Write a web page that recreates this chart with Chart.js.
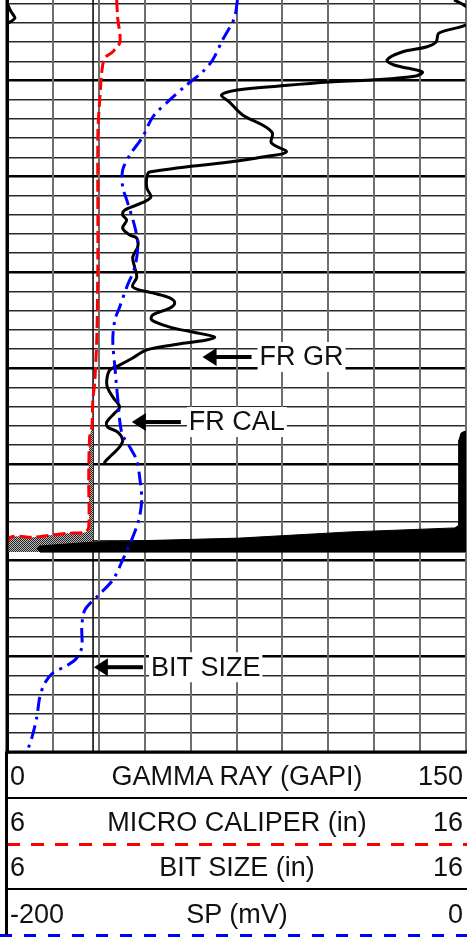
<!DOCTYPE html>
<html>
<head>
<meta charset="utf-8">
<script src="https://cdn.jsdelivr.net/npm/chart.js@4.4.1/dist/chart.umd.min.js"></script>
<style>
  body { margin: 0; background: #fff; font-family: "Liberation Sans", Arial, sans-serif; }
  #plot { position: absolute; left: 0; top: 0; width: 467px; height: 754px; }
  .row { position: absolute; left: 7px; width: 460px; display: flex; align-items: center; font-size: 27px; color: #111; }
  .row .l { position: absolute; left: 3px; }
  .row .r { position: absolute; right: 4px; }
  .row .c { width: 100%; text-align: center; }
  .sep { position: absolute; left: 7px; width: 460px; }
  #leftBorder { position: absolute; left: 5px; top: 752px; width: 3px; height: 183px; background: #000; }
</style>
</head>
<body>
<div id="plot"><canvas id="logChart"></canvas></div>

<div class="row" style="top:753px;height:46px"><span class="l">0</span><span class="c">GAMMA RAY (GAPI)</span><span class="r">150</span></div>
<div class="sep" style="top:797px;height:2px;background:#000"></div>
<div class="row" style="top:799px;height:46px"><span class="l">6</span><span class="c">MICRO CALIPER (in)</span><span class="r">16</span></div>
<div class="sep" style="top:843px;height:3px;background:repeating-linear-gradient(to right,#f00 0 13px,transparent 13px 24px)"></div>
<div class="row" style="top:845px;height:45px"><span class="l">6</span><span class="c">BIT SIZE (in)</span><span class="r">16</span></div>
<div class="sep" style="top:888px;height:2px;background:#000"></div>
<div class="row" style="top:891px;height:46px"><span class="l">-200</span><span class="c">SP (mV)</span><span class="r">0</span></div>
<div class="sep" style="top:934px;height:3px;left:0;width:467px;background:repeating-linear-gradient(to right,#00f 0 12px,transparent 12px 24px)"></div>
<div id="leftBorder"></div>

<script>
// depth in grid divisions (one minor line = 1), values in curve units

// gamma ray (GAPI)
const grDepth = [0.80, 1.06, 1.58, 2.10, 2.52, 2.99, 3.25, 3.51, 3.93, 4.19, 4.55, 4.76, 4.97, 5.07, 5.28, 5.49, 5.75, 6.12, 6.79, 7.32, 7.73, 8.25, 8.72, 8.98, 9.24, 9.77, 10.03, 10.60, 11.07, 11.38, 11.75, 12.01, 12.27, 12.69, 13.05, 13.21, 13.68, 14.20, 14.72, 15.24, 15.76, 16.07, 16.33, 16.59, 16.86, 17.22, 17.48, 17.85, 18.11, 18.37, 18.52, 18.78, 19.04, 19.46, 19.83, 20.09, 20.61, 21.03, 21.50, 22.02, 22.33, 22.80, 23.06, 23.32, 23.74, 24.10, 24.52, 24.88, 25.04];
const grValue = [146.1, 149.3, 152.6, 150.0, 141.2, 140.2, 137.0, 129.1, 124.2, 126.5, 135.7, 133.7, 119.0, 105.3, 89.0, 75.3, 70.1, 72.7, 77.0, 83.5, 86.7, 86.4, 91.3, 83.5, 72.7, 46.6, 45.7, 45.7, 47.0, 44.0, 38.5, 37.8, 39.1, 37.8, 40.1, 42.4, 42.7, 41.1, 41.7, 42.4, 41.1, 47.6, 53.2, 54.8, 53.2, 47.6, 47.3, 53.2, 60.7, 67.8, 65.2, 54.1, 45.7, 41.1, 36.8, 33.6, 32.6, 32.9, 34.6, 36.8, 35.2, 32.6, 32.9, 36.2, 37.8, 36.8, 34.2, 32.0, 32.0];

// gamma ray wrapping in at the top left
const grWrapDepth = [0.95, 1.40, 1.74, 1.92, 2.00];
const grWrapValue = [0.0, 1.3, 2.6, 1.3, 0.3];

// micro caliper (in)
const calDepth = [0.80, 1.69, 2.99, 3.51, 3.82, 4.45, 6.01, 7.73, 13.84, 18.16, 19.93, 20.77, 21.66, 23.06, 23.59, 25.83, 28.28, 28.54, 28.60, 28.70, 28.81, 28.81, 29.58];
const calValue = [8.39, 8.41, 8.46, 8.30, 8.13, 8.07, 8.02, 7.98, 7.98, 7.96, 7.93, 7.91, 7.87, 7.85, 7.80, 7.78, 7.78, 7.70, 7.30, 6.93, 6.57, 6.07, 5.95];

// bit size (in)
const bitDepth = [0.8, 40];
const bitValue = [7.875, 7.875];

// SP (mV)
const spDepth = [0.80, 1.74, 2.89, 3.93, 4.55, 5.23, 6.01, 6.90, 7.94, 8.88, 9.66, 10.55, 11.23, 12.63, 13.57, 14.72, 15.76, 16.80, 17.48, 18.52, 19.93, 21.65, 23.37, 24.10, 24.78, 25.67, 26.86, 27.91, 28.95, 29.99, 31.03, 31.92, 32.60, 33.48, 34.53, 35.10, 35.47, 35.88, 36.40, 37.13, 38.18, 39.22, 40.00];
const spValue = [-99.6, -100.9, -106.1, -110.4, -114.8, -121.7, -129.1, -136.5, -140.9, -146.5, -149.6, -149.6, -147.8, -144.3, -143.0, -144.3, -147.8, -150.9, -153.0, -153.9, -153.0, -151.7, -150.0, -146.5, -143.5, -142.2, -141.3, -142.6, -145.7, -149.6, -153.9, -160.9, -166.1, -167.4, -167.4, -169.6, -173.5, -180.0, -183.5, -185.7, -187.0, -189.1, -191.3];

// casing outline, on the gamma ray scale, filled to the right edge
const casingDepth = [23.27, 23.37, 23.74, 28.17, 28.32, 28.53, 28.85, 29.05, 29.26, 29.42, 29.58, 29.58];
const casingValue = [149.7, 148.4, 147.7, 147.7, 146.4, 111.8, 76.0, 28.7, 10.8, 9.8, 10.8, 149.7];

const annotations = [
  { label: 'FR GR', gr: 63.9, depth: 19.41 },
  { label: 'FR CAL', gr: 40.8, depth: 22.80 },
  { label: 'BIT SIZE', gr: 28.4, depth: 35.58 },
];

const pts = (xs, ys) => xs.map((v, i) => ({ x: v, y: ys[i] }));

// mudcake shading: caliper clipped at bit size, filled to the bit line
const mudValue = calValue.map(v => Math.min(v, bitValue[0]));

// dithered grey like the original shading
const pc = document.createElement('canvas');
pc.width = 2; pc.height = 2;
const pctx = pc.getContext('2d');
pctx.fillStyle = '#bbb'; pctx.fillRect(0, 0, 2, 2);
pctx.fillStyle = '#222'; pctx.fillRect(0, 0, 1, 1); pctx.fillRect(1, 1, 1, 1);
const shade = pctx.createPattern(pc, 'repeat');

const labelPlugin = {
  id: 'labels',
  afterDatasetsDraw(chart) {
    const c = chart.ctx;
    const xs = chart.scales.xGR, ys = chart.scales.y;
    const a = chart.chartArea;
    c.save();
    // frame
    c.fillStyle = '#000';
    c.fillRect(a.left - 1.5, a.top, 3, a.bottom - a.top + 2);
    c.fillRect(a.left - 1.5, a.bottom - 1.5, a.right - a.left + 3, 3);
    c.font = '27px "Liberation Sans", Arial, sans-serif';
    c.textBaseline = 'middle';
    annotations.forEach(an => {
      const x = xs.getPixelForValue(an.gr);
      const y = ys.getPixelForValue(an.depth);
      c.fillStyle = '#000';
      c.beginPath();
      c.moveTo(x, y);
      c.lineTo(x + 14, y - 9);
      c.lineTo(x + 14, y + 9);
      c.closePath();
      c.fill();
      c.fillRect(x + 12, y - 2, 37, 4);
      const tx = x + 57;
      const w = c.measureText(an.label).width;
      c.fillStyle = '#fff';
      c.fillRect(tx - 2, y - 15, w + 4, 30);
      c.fillStyle = '#111';
      c.fillText(an.label, tx, y + 1);
    });
    c.restore();
  }
};

const ctx = document.getElementById('logChart').getContext('2d');

new Chart(ctx, {
  type: 'line',
  data: {
    datasets: [
      { // 0
        label: 'SP',
        data: pts(spValue, spDepth),
        xAxisID: 'xSP',
        borderColor: '#0000ff',
        borderWidth: 3,
        borderDash: [14, 6, 3, 6],
        tension: 0.3,
        fill: false,
      },
      { // 1
        label: 'GR',
        data: pts(grValue, grDepth),
        xAxisID: 'xGR',
        borderColor: '#000',
        borderWidth: 3,
        borderJoinStyle: 'round',
        tension: 0.35,
        fill: false,
      },
      { // 2
        label: 'GR wrap',
        data: pts(grWrapValue, grWrapDepth),
        xAxisID: 'xGR',
        borderColor: '#000',
        borderWidth: 3,
        tension: 0.2,
        fill: false,
      },
      { // 3
        label: 'Casing',
        data: pts(casingValue, casingDepth),
        xAxisID: 'xGR',
        borderColor: '#000',
        borderWidth: 1,
        backgroundColor: '#000',
        tension: 0,
        fill: { value: 150 },
      },
      { // 4
        label: 'Micro caliper',
        data: pts(calValue, calDepth),
        xAxisID: 'xCal',
        borderColor: '#ff0000',
        borderWidth: 3,
        borderDash: [12, 5],
        tension: 0.3,
        fill: false,
      },
      { // 5
        label: 'Mudcake',
        data: pts(mudValue, calDepth),
        xAxisID: 'xCal',
        borderWidth: 0,
        backgroundColor: shade,
        tension: 0.3,
        fill: 6,
      },
      { // 6
        label: 'Bit size',
        data: pts(bitValue, bitDepth),
        xAxisID: 'xCal',
        borderColor: '#000',
        borderWidth: 1.5,
        tension: 0,
        fill: false,
      },
    ]
  },
  options: {
    indexAxis: 'y',
    responsive: true,
    maintainAspectRatio: false,
    animation: false,
    layout: { padding: { left: 7, right: 1, top: 0, bottom: 2 } },
    elements: { point: { radius: 0, hoverRadius: 0 } },
    plugins: {
      legend: { display: false },
      tooltip: { enabled: false },
    },
    scales: {
      y: {
        type: 'linear',
        min: 0.8,
        max: 40,
        reverse: true,
        afterBuildTicks: s => {
          s.ticks = Array.from({ length: 40 }, (_, i) => ({ value: i + 1 }));
        },
        ticks: { display: false },
        border: { display: false },
        grid: {
          drawTicks: false,
          color: c => c.tick && c.tick.value % 5 === 0 ? '#000' : '#2a2a2a',
          lineWidth: c => c.tick && c.tick.value % 5 === 0 ? 2.5 : 1.5,
        },
      },
      xGR: {
        type: 'linear',
        position: 'bottom',
        min: 0,
        max: 150,
        ticks: { display: false, stepSize: 15 },
        border: { display: false },
        grid: {
          drawTicks: false,
          color: c => c.tick && c.tick.value === 0 ? '#000' : '#6e6e6e',
          lineWidth: c => c.tick && c.tick.value === 0 ? 3 : 2,
        },
      },
      xCal: { type: 'linear', display: false, min: 6, max: 16 },
      xSP: { type: 'linear', display: false, min: -200, max: 0 },
    }
  },
  plugins: [labelPlugin]
});
</script>
</body>
</html>
